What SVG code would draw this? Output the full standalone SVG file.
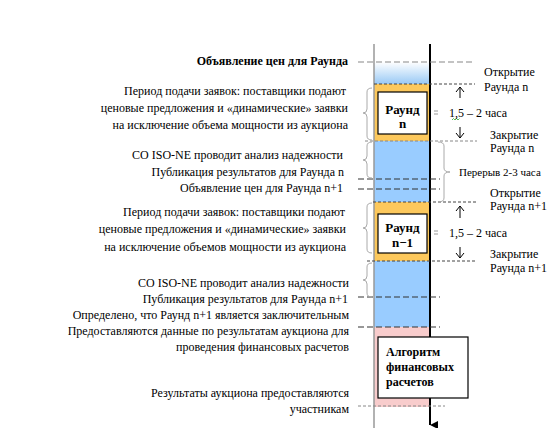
<svg xmlns="http://www.w3.org/2000/svg" width="548" height="428" viewBox="0 0 548 428">
<defs>
<linearGradient id="gTop" x1="0" y1="0" x2="0" y2="1">
<stop offset="0" stop-color="#ffffff"/>
<stop offset="1" stop-color="#99c9f5"/>
</linearGradient>
<marker id="arrDown" viewBox="0 0 10 10" refX="5" refY="10" markerWidth="8" markerHeight="8" orient="auto-start-reverse" markerUnits="userSpaceOnUse">
<path d="M0,0 L10,0 L5,10 Z" fill="#000"/>
</marker>
</defs>
<style>
text{font-family:"Liberation Serif","Times New Roman",serif;font-size:12px;fill:#000}
.r{text-anchor:end}
.b{font-weight:bold}
.bx{font-weight:bold;font-size:13px;text-anchor:middle}
.dg{stroke:#888;stroke-width:1.2;stroke-dasharray:6,3;fill:none}
.dd{stroke:#333;stroke-width:1.2;stroke-dasharray:6,3;fill:none}
.dt{stroke:#444;stroke-width:1;stroke-dasharray:3,2;fill:none}
.dgt{stroke:#888;stroke-width:1;stroke-dasharray:3,2;fill:none}
.brace{stroke:#aaa;stroke-width:1;fill:none}
.ar{stroke:#000;stroke-width:1;fill:none}
.box{fill:#fff;stroke:#000;stroke-width:1.2}
</style>

<g id="column">
<rect x="374" y="62" width="56" height="22" fill="url(#gTop)"/>
<rect x="374" y="84" width="56" height="57" fill="#fcc85c"/>
<rect x="374" y="141" width="56" height="61" fill="#99ccff"/>
<rect x="374" y="202" width="56" height="59" fill="#fcc85c"/>
<rect x="374" y="261" width="56" height="66" fill="#99ccff"/>
<rect x="374" y="327" width="56" height="80" fill="#f8cccc"/>
<line x1="374" y1="44" x2="374" y2="428" stroke="#999" stroke-width="1.5"/>
</g>

<g id="connectors">
<line x1="430" y1="44" x2="430" y2="425" stroke="#000" stroke-width="2" marker-end="url(#arrDown)"/>
<line class="dg" x1="358" y1="62" x2="475" y2="62"/>
<line class="dt" x1="374" y1="84" x2="475" y2="84"/>
<line class="dgt" x1="365" y1="141" x2="477" y2="141"/>
<line class="dd" x1="358" y1="179" x2="440" y2="179"/>
<line class="dd" x1="358" y1="189" x2="440" y2="189"/>
<line class="dt" x1="373" y1="202" x2="477" y2="202"/>
<line class="dt" x1="367" y1="261" x2="477" y2="261"/>
<line class="dd" x1="358" y1="297" x2="440" y2="297"/>
<line class="dd" x1="358" y1="327" x2="440" y2="327"/>
<line class="dgt" x1="358" y1="406" x2="445" y2="406"/>
<path class="brace" d="M372,88 Q367,88 367,92 L367,109 Q367,113 363,113 Q367,113 367,117 L367,136 Q367,140 372,140"/>
<path class="brace" d="M372,142 Q367,142 367,146 L367,156 Q367,160 363,160 Q367,160 367,164 L367,174 Q367,178 372,178"/>
<path class="brace" d="M372,203 Q367,203 367,207 L367,224 Q367,228 363,228 Q367,228 367,232 L367,249 Q367,253 372,253"/>
<path class="brace" d="M372,263 Q367,263 367,267 L367,276 Q367,280 363,280 Q367,280 367,284 L367,293 Q367,297 372,297"/>
<path class="brace" d="M438,142 Q444,142 444,146 L444,168 Q444,172 450,172 Q444,172 444,176 L444,198 Q444,202 438,202"/>
<path class="ar" d="M460,98 L460,87 M456,92 L460,87 L464,92"/>
<path class="ar" d="M460,127 L460,138 M456,133 L460,138 L464,133"/>
<path class="ar" d="M460,218 L460,206 M456,211 L460,206 L464,211"/>
<path class="ar" d="M460,247 L460,258 M456,253 L460,258 L464,253"/>
<path d="M434,111 h4 M434,114 h4" stroke="#999" stroke-width="1"/>
<path d="M434,231 h4 M434,234 h4" stroke="#999" stroke-width="1"/>
<path d="M452,120 l1.5,-1.5 l1.5,1.5 l1.5,-1.5 l1.5,1.5 l1.5,-1.5" stroke="#3a3" stroke-width="0.8" fill="none"/>
</g>

<g id="round-n">
<rect class="box" x="378" y="92" width="49" height="42"/>
<text class="bx" x="402.5" y="114">Раунд</text>
<text class="bx" x="402.5" y="128">n</text>
</g>

<g id="round-n1">
<rect class="box" x="378" y="214" width="49" height="39"/>
<text class="bx" x="402.5" y="232">Раунд</text>
<text class="bx" x="402.5" y="247">n−1</text>
</g>

<g id="algorithm">
<rect class="box" x="378" y="337" width="90" height="61"/>
<text class="b" x="386" y="356">Алгоритм</text>
<text class="b" x="386" y="371">финансовых</text>
<text class="b" x="386" y="386">расчетов</text>
</g>

<g id="left-labels">
<text class="r b" x="348" y="65">Объявление цен для Раунда</text>
<text class="r" x="346" y="95">Период подачи заявок: поставщики подают</text>
<text class="r" x="348" y="112">ценовые предложения и «динамические» заявки</text>
<text class="r" x="348" y="129">на исключение объема мощности из аукциона</text>
<text class="r" x="343" y="159">СО ISO-NE проводит анализ надежности</text>
<text class="r" x="344" y="176">Публикация результатов для Раунда n</text>
<text class="r" x="343" y="192">Объявление цен для Раунда n+1</text>
<text class="r" x="345" y="216">Период подачи заявок: поставщики подают</text>
<text class="r" x="346" y="233">ценовые предложения и «динамические» заявки</text>
<text class="r" x="346" y="251">на исключение объемов мощности из аукциона</text>
<text class="r" x="349" y="287">СО ISO-NE проводит анализ надежности</text>
<text class="r" x="348" y="303">Публикация результатов для Раунда n+1</text>
<text class="r" x="349" y="319">Определено, что Раунд n+1 является заключительным</text>
<text class="r" x="349" y="335">Предоставляются данные по результатам аукциона для</text>
<text class="r" x="349" y="351">проведения финансовых расчетов</text>
<text class="r" x="349" y="397">Результаты аукциона предоставляются</text>
<text class="r" x="349" y="413">участникам</text>
</g>

<g id="right-labels">
<text x="484" y="76">Открытие</text>
<text x="484" y="91">Раунда n</text>
<text x="449" y="117">1,5 – 2 часа</text>
<text x="490" y="139">Закрытие</text>
<text x="490" y="152">Раунда n</text>
<text x="459" y="176" style="font-size:11px">Перерыв 2-3 часа</text>
<text x="490" y="197">Открытие</text>
<text x="490" y="210">Раунда n+1</text>
<text x="449" y="237">1,5 – 2 часа</text>
<text x="490" y="258">Закрытие</text>
<text x="490" y="272">Раунда n+1</text>
</g>
</svg>
